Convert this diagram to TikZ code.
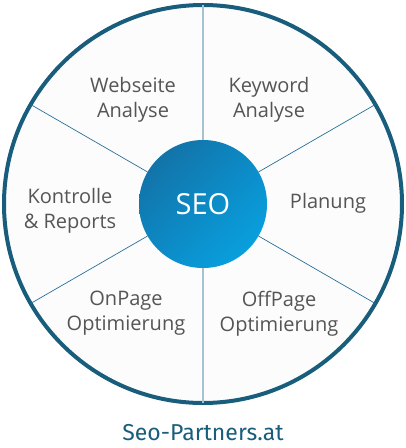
\documentclass[tikz,border=0pt]{standalone}
\usepackage{fontspec}
\setmainfont{Open Sans}
\newfontfamily\brandfont{Fira Sans}
\usetikzlibrary{positioning,shadings}

\definecolor{ringblue}{HTML}{195D7D}
\definecolor{discfill}{HTML}{FCFCFC}
\definecolor{hubdark}{HTML}{166A9C}
\definecolor{hubmid}{HTML}{0B8AC6}
\definecolor{hublight}{HTML}{08A8E8}
\definecolor{spokelight}{HTML}{A6C2D2}
\definecolor{spokedark}{HTML}{2B7099}
\definecolor{labelgray}{HTML}{555555}

\begin{document}
\begin{tikzpicture}[
  x=1pt, y=-1pt,
  ring/.style={circle, draw=ringblue, line width=4pt, fill=discfill, minimum size=398pt, inner sep=0pt, outer sep=0pt},
  hub/.style={circle, minimum size=128pt, inner sep=0pt, outer sep=0pt, shade,
    upper left=hubdark, upper right=hubmid, lower left=hubmid, lower right=hublight,
    text=white, font=\fontsize{29}{32}\selectfont},
  segtext/.style={align=center, text=labelgray, font=\fontsize{20}{25}\selectfont},
  mainspoke/.style={draw=spokelight, line width=2.4pt},
  sidespoke/.style={draw=spokedark, line width=0.7pt}
]
\useasboundingbox (0,0) rectangle (406,448);

\node[ring] (ring) at (203,204) {};
\node[hub] (hub) at (203,204) {SEO};

% spokes between hub and ring
\draw[mainspoke] (hub.90) -- (ring.90);
\draw[mainspoke] (hub.270) -- (ring.270);
\foreach \a in {30,150,210,330}
  \draw[sidespoke] (hub.\a) -- (ring.\a);

% segment labels
\node[segtext] (webseite) at (133,100) {Webseite\\Analyse};
\node[segtext] (keyword) at (269,100) {Keyword\\Analyse};
\node[segtext] (planung) at (328,203) {Planung};
\node[segtext] (offpage) at (279,313.5) {OffPage\\Optimierung};
\node[segtext] (onpage) at (126,313.5) {OnPage\\Optimierung};
\node[segtext] (kontrolle) at (70,211) {Kontrolle\\\& Reports};

\node[text=ringblue, font=\brandfont\fontsize{23}{26}\selectfont, inner sep=0pt, anchor=base] (brand) at (203,440.5) {Seo-Partners.at};
\end{tikzpicture}
\end{document}
